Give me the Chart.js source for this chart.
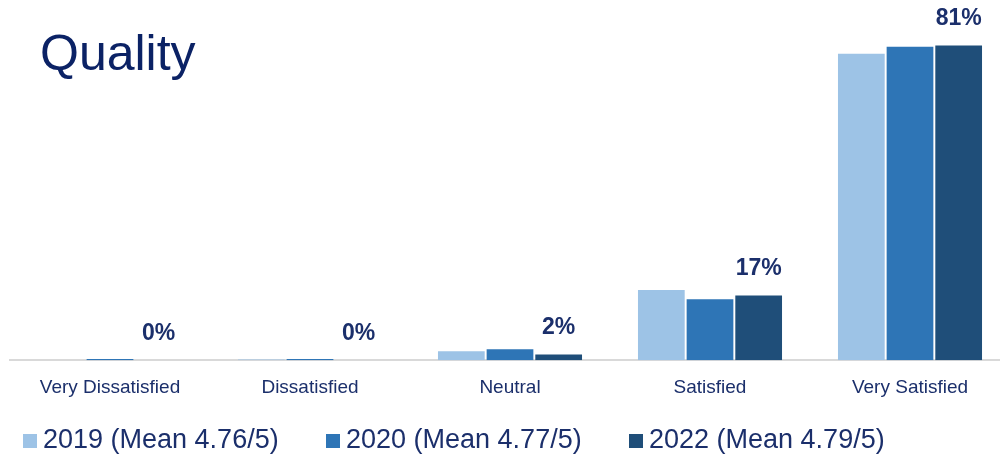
<!DOCTYPE html>
<html>
<head>
<meta charset="utf-8">
<script src="https://cdn.jsdelivr.net/npm/chart.js@4"></script>
<style>
  html, body { margin: 0; padding: 0; background: #fff; overflow: hidden; }
  #wrap { width: 1010px; height: 456px; }
</style>
</head>
<body>
<div id="wrap"><canvas id="qualityChart"></canvas></div>
<script>
const categories = ['Very Dissatisfied', 'Dissatisfied', 'Neutral', 'Satisfied', 'Very Satisfied'];
const seriesNames = ['2019 (Mean 4.76/5)', '2020 (Mean 4.77/5)', '2022 (Mean 4.79/5)'];
const values2019 = [0, 0.2, 2.3, 18.1, 79.0];
const values2020 = [0.3, 0.3, 2.8, 15.7, 80.8];
const values2022 = [0, 0, 1.5, 16.7, 81.1];
const seriesColors = ['#9dc3e6', '#2e75b6', '#1f4e79'];

const navy = '#1b2f6b';

// big title in the top-left corner
const titleText = {
  id: 'titleText',
  afterDraw(chart) {
    const ctx = chart.ctx;
    ctx.save();
    ctx.font = '50px "Liberation Sans", Arial, sans-serif';
    ctx.fillStyle = '#0b2265';
    ctx.textBaseline = 'alphabetic';
    ctx.fillText('Quality', 40, 70);
    ctx.restore();
  }
};

// percent labels over the 2022 bars only
const valueLabels = {
  id: 'valueLabels',
  afterDatasetsDraw(chart) {
    const ctx = chart.ctx;
    const meta = chart.getDatasetMeta(2);
    ctx.save();
    ctx.font = 'bold 23px "Liberation Sans", Arial, sans-serif';
    ctx.fillStyle = navy;
    ctx.textAlign = 'center';
    ctx.textBaseline = 'bottom';
    meta.data.forEach((bar, i) => {
      const v = chart.data.datasets[2].data[i];
      ctx.fillText(Math.round(v) + '%', bar.x, bar.y - 15);
    });
    ctx.restore();
  }
};

// legend row along the bottom
const legendRow = {
  id: 'legendRow',
  afterDraw(chart) {
    const ctx = chart.ctx;
    ctx.save();
    ctx.font = '27px "Liberation Sans", Arial, sans-serif';
    ctx.textBaseline = 'middle';
    let x = 23;
    chart.data.datasets.forEach(ds => {
      ctx.fillStyle = ds.backgroundColor;
      ctx.fillRect(x, 434, 14, 14);
      ctx.fillStyle = navy;
      ctx.fillText(ds.label, x + 20, 441);
      x += 303;
    });
    ctx.restore();
  }
};

new Chart(document.getElementById('qualityChart'), {
  type: 'bar',
  data: {
    labels: categories,
    datasets: [
      { label: seriesNames[0], data: values2019, backgroundColor: seriesColors[0] },
      { label: seriesNames[1], data: values2020, backgroundColor: seriesColors[1] },
      { label: seriesNames[2], data: values2022, backgroundColor: seriesColors[2] }
    ]
  },
  options: {
    responsive: true,
    maintainAspectRatio: false,
    animation: false,
    datasets: {
      bar: { categoryPercentage: 0.73, barPercentage: 0.96 }
    },
    layout: { padding: { left: 10, right: 0, top: 11, bottom: 41 } },
    plugins: {
      legend: { display: false },
      tooltip: { enabled: false }
    },
    scales: {
      x: {
        grid: { display: false, drawTicks: false },
        border: { color: '#d9d9d9', width: 2 },
        ticks: {
          color: navy,
          padding: 16,
          maxRotation: 0,
          font: { size: 19, family: '"Liberation Sans", Arial, sans-serif' }
        }
      },
      y: {
        display: false,
        min: 0,
        max: 90
      }
    }
  },
  plugins: [titleText, valueLabels, legendRow]
});
</script>
</body>
</html>
